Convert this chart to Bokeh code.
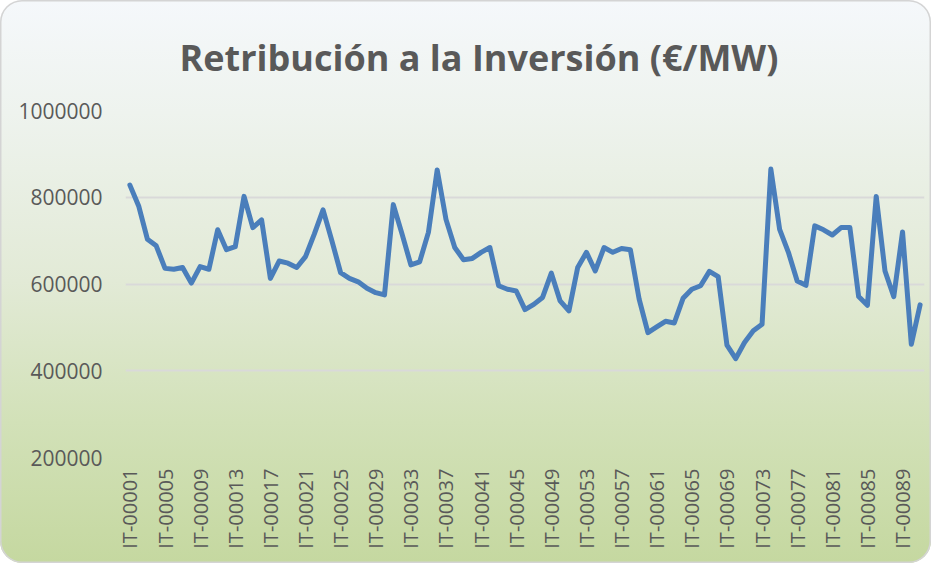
import math
from bokeh.plotting import figure
from bokeh.models import FixedTicker, Range1d
from bokeh.embed import file_html
from bokeh.resources import INLINE

# ---- data ----
codes = [f"IT-{i:05d}" for i in range(1, 92)]
values = [
    828000, 780000, 703000, 688000, 636000, 634000, 638000, 602000, 640000, 634000,
    725000, 679000, 686000, 802000, 730000, 748000, 613000, 653000, 648000, 638000,
    663000, 715000, 771000, 700000, 626000, 613000, 605000, 590000, 580000, 575000,
    783000, 715000, 644000, 651000, 719000, 863000, 749000, 684000, 656000, 659000,
    673000, 684000, 596000, 588000, 584000, 541000, 553000, 569000, 625000, 561000,
    538000, 638000, 673000, 630000, 684000, 673000, 682000, 679000, 565000, 488000,
    501000, 514000, 510000, 567000, 588000, 596000, 629000, 617000, 459000, 428000,
    465000, 492000, 507000, 865000, 726000, 673000, 607000, 597000, 734000, 725000,
    713000, 730000, 730000, 571000, 551000, 802000, 630000, 571000, 720000, 461000,
    552000,
]
y_ticks = [200000, 400000, 600000, 800000, 1000000]
label_step = 4
title_text = "Retribución a la Inversión (€/MW)"

xs = list(range(len(values)))
shown = xs[::label_step]

p = figure(
    width=931, height=563,
    output_backend="svg", toolbar_location=None,
    x_range=Range1d(-0.5, len(values) - 0.5),
    y_range=Range1d(min(y_ticks), max(y_ticks)),
    min_border_left=125, min_border_right=7,
    min_border_top=110, min_border_bottom=106,
    background_fill_alpha=0, border_fill_alpha=0,
    outline_line_color=None,
    styles={
        "background": "linear-gradient(to bottom, #f5f8fb 0%, #eef3ee 20%, #e2ead6 50%, #d2e1b8 75%, #c5d8a0 100%)",
        "border-radius": "22px",
        "box-shadow": "inset 0 0 0 1.5px #d4d4d4",
    },
)

p.line(xs, values, line_color="#4a7ebb", line_width=5, line_join="round", line_cap="round")

p.title.text = title_text
p.title.text_font = "Open Sans"
p.title.text_font_size = "36px"
p.title.text_font_style = "bold"
p.title.text_color = "#595959"
p.title.text_line_height = 0.9
p.title.align = "left"
p.title.standoff = 58
p.title.offset = 54

# y axis
p.yaxis.ticker = FixedTicker(ticks=y_ticks)
p.yaxis.axis_line_color = None
p.yaxis.major_tick_line_color = None
p.yaxis.minor_tick_line_color = None
p.yaxis.major_label_standoff = 17
p.yaxis.major_label_text_font = "Open Sans"
p.yaxis.major_label_text_font_size = "21px"
p.yaxis.major_label_text_color = "#595959"
p.yaxis.formatter.use_scientific = False

# x axis
p.xaxis.ticker = FixedTicker(ticks=shown)
p.xaxis.major_label_overrides = {i: codes[i] for i in shown}
p.xaxis.major_label_orientation = math.pi / 2
p.xaxis.axis_line_color = None
p.xaxis.major_tick_line_color = None
p.xaxis.minor_tick_line_color = None
p.xaxis.major_label_standoff = 5
p.xaxis.major_label_text_font = "Open Sans"
p.xaxis.major_label_text_font_size = "20px"
p.xaxis.major_label_text_color = "#595959"

p.xgrid.grid_line_color = None
p.ygrid.grid_line_color = "#d9d9d9"
p.ygrid.grid_line_width = 2

open("out.html", "w").write(file_html(p, INLINE))
